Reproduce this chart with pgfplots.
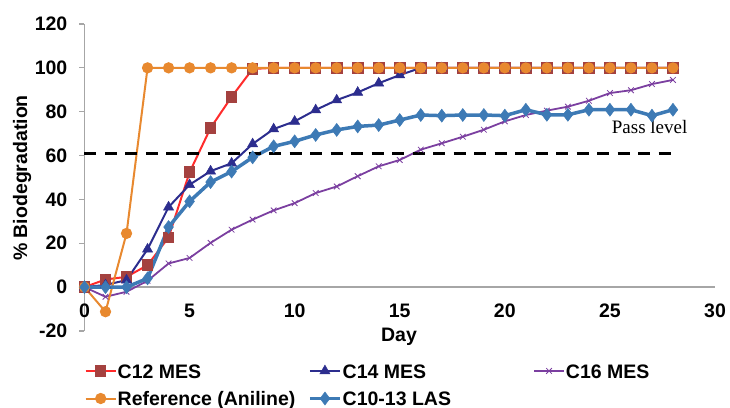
\documentclass[border=0pt]{standalone}
\usepackage{fontspec}
\setmainfont{Liberation Sans}
\newfontfamily\passfont{Liberation Serif}
\usepackage{pgfplots}
\usepackage{pgfplotstable}
\pgfplotsset{compat=1.18}
\definecolor{cRef}{HTML}{E8892F}
\definecolor{cCtwl}{HTML}{FF2B2B}
\definecolor{cCtwm}{HTML}{A4413F}
\definecolor{cCfour}{HTML}{2C2D8E}
\definecolor{cCsix}{HTML}{7B3FA0}
\definecolor{cLAS}{HTML}{3D7AB5}
\definecolor{axgray}{HTML}{A6A6A6}
\newcommand{\lbl}{\bfseries\fontsize{19.5bp}{22bp}\selectfont}
\newcommand{\legtxt}[1]{\makebox[190.5bp][l]{\rule[-4bp]{0pt}{18bp}#1}}

\pgfplotstableread{
day ref c12 c14 c16 las
0 0 0 0 0 0
1 -11.2 3.5 1 -4.4 0
2 24.5 4.7 3.2 -2.1 0
3 100 10 17.3 2.9 4
4 100 22.7 36.5 10.8 27.4
5 100 52.4 46.7 13.3 39.1
6 100 72.6 52.9 20.2 47.9
7 100 86.8 56.5 26.2 52.7
8 100 99.5 65.3 30.8 59.2
9 100 100 72.1 35 64.2
10 100 100 75.6 38.3 66.5
11 100 100 80.8 42.9 69.4
12 100 100 85.3 45.9 71.7
13 100 100 88.8 50.6 73.3
14 100 100 93 55.1 73.9
15 100 100 96.7 58 76.2
16 100 100 100 62.7 78.5
17 100 100 100 65.6 78.2
18 100 100 100 68.6 78.5
19 100 100 100 71.8 78.5
20 100 100 100 75.6 78.2
21 100 100 100 78.5 80.9
22 100 100 100 80.5 78.6
23 100 100 100 82.3 78.6
24 100 100 100 85 80.9
25 100 100 100 88.5 80.9
26 100 100 100 89.8 80.9
27 100 100 100 92.6 78.2
28 100 100 100 94.5 80.9
}\data

\begin{document}
\begin{tikzpicture}
\begin{axis}[
  scale only axis, width=630.5bp, height=307bp,
  at={(0,0)}, anchor=south west,
  xmin=0, xmax=30, ymin=-20, ymax=120,
  axis x line*=middle, axis y line*=left,
  axis line style={axgray, line width=1.3bp},
  xtick={0,5,...,30}, ytick={-20,0,...,120},
  hide obscured x ticks=false, hide obscured y ticks=false,
  xtick style={draw=none},
  ytick style={axgray, line width=1.1bp},
  tick align=outside, major tick length=5bp,
  ticklabel style={font=\lbl},
  /pgf/number format/assume math mode=true,
  xticklabel style={anchor=north, inner sep=0pt, yshift=-12bp},
  yticklabel style={anchor=east, inner sep=0pt, xshift=-12bp},
  xlabel={Day}, ylabel={\% Biodegradation},
  label style={font=\lbl},
  xlabel style={at={(axis description cs:0.4988,-0.0326)}, anchor=base},
  ylabel style={at={(axis description cs:-0.0991,0.4984)}, anchor=center},
  clip=false,
  legend columns=3,
  legend cell align=left,
  legend style={draw=none, fill=none, at={(axis description cs:0,-0.1075)}, anchor=north west,
    inner sep=0pt, row sep=12bp, font=\lbl, nodes={inner sep=0pt},
    /tikz/every odd column/.append style={column sep=1bp}},
  legend image code/.code={\draw[mark repeat=2,mark phase=2,#1] plot coordinates {(0bp,1bp) (15bp,1bp) (30bp,1bp)};},
]
\addplot[cCtwl, line width=2bp, mark=square*, mark size=4.8bp, mark options={fill=cCtwm, draw=cCtwm}] table[x=day,y=c12] {\data};
\addlegendentry{\legtxt{C12 MES}}
\addplot[cCfour, line width=2bp, mark=triangle*, mark size=5.8bp, mark options={fill=cCfour, line width=0.5bp}] table[x=day,y=c14] {\data};
\addlegendentry{\legtxt{C14 MES}}
\addplot[cCsix, line width=1.8bp, mark=x, mark size=4bp, mark options={line width=0.8bp}] table[x=day,y=c16] {\data};
\addlegendentry{\legtxt{C16 MES}}
\addplot[cRef, line width=2bp, mark=*, mark size=4.6bp, mark options={fill=cRef}] table[x=day,y=ref] {\data};
\addlegendentry{\legtxt{Reference (Aniline)}}
\addplot[cLAS, line width=3.5bp, mark=diamond*, mark size=6.5bp, mark options={fill=cLAS, line width=0.5bp}] table[x=day,y=las] {\data};
\addlegendentry{\legtxt{C10-13 LAS}}
\addplot[black, line width=2.5bp, dash pattern=on 12bp off 8.5bp, forget plot] coordinates {(0,61) (28,61)};
\node[font=\passfont\fontsize{19bp}{22bp}\selectfont, anchor=base, inner sep=0pt] at (axis cs:26.89,70) {Pass level};
\end{axis}
\pgfresetboundingbox
\path[use as bounding box] (-84.5bp,-77bp) rectangle (645.5bp,331bp);
\end{tikzpicture}
\end{document}
